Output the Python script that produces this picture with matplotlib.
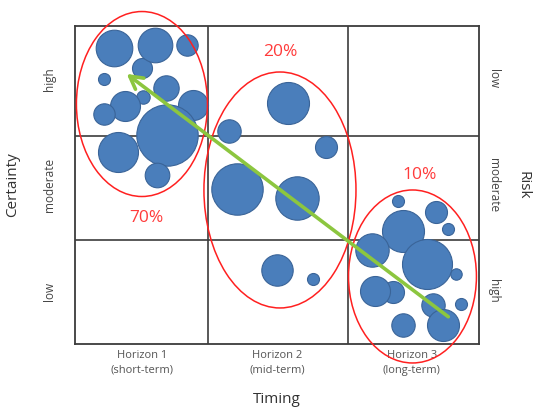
import matplotlib
matplotlib.use("Agg")
import matplotlib.pyplot as plt
from matplotlib.patches import Ellipse
import numpy as np

plt.rcParams['font.family'] = ['Open Sans', 'DejaVu Sans']

# ---- data (cell units: x = timing 0..3, y = certainty 0..3) ----
timing_labels = ["Horizon 1\n(short-term)", "Horizon 2\n(mid-term)", "Horizon 3\n(long-term)"]
certainty_labels = ["low", "moderate", "high"]
risk_labels = ["high", "moderate", "low"]

# bubbles: x, y, radius (relative size)
g1_x = [0.495, 0.292, 0.594, 0.829, 0.218, 0.676, 0.503, 0.371, 0.218, 0.878, 0.685, 0.322, 0.607]
g1_y = [2.601, 2.790, 2.821, 2.821, 2.500, 2.412, 2.333, 2.245, 2.167, 2.255, 1.972, 1.814, 1.594]
g1_r = [10.0, 18.3, 17.3, 10.7, 6.0, 12.7, 6.7, 15.0, 10.7, 15.0, 30.7, 20.0, 12.3]

g2_x = [1.579, 1.146, 1.864, 1.205, 1.646, 1.502, 1.770]
g2_y = [2.271, 2.012, 1.861, 1.459, 1.375, 0.698, 0.610]
g2_r = [21.0, 11.7, 11.0, 25.7, 21.7, 15.7, 6.0]

g3_x = [2.401, 2.678, 2.767, 2.438, 2.203, 2.616, 2.829, 2.363, 2.228, 2.661, 2.866, 2.438, 2.735]
g3_y = [1.352, 1.242, 1.085, 1.069, 0.887, 0.752, 0.660, 0.493, 0.503, 0.368, 0.377, 0.179, 0.179]
g3_r = [6.0, 11.0, 6.0, 21.0, 16.7, 25.0, 5.7, 11.0, 15.0, 11.7, 6.0, 11.7, 16.0]

# group ellipses: center x, center y, width, height
ell_cx = [0.497, 1.522, 2.506]
ell_cy = [2.264, 1.453, 0.637]
ell_w = [0.973, 1.129, 0.950]
ell_h = [1.745, 2.226, 1.632]

# share labels
share_text = ["70%", "20%", "10%"]
share_x = [0.527, 1.522, 2.562]
share_y = [1.189, 2.758, 1.594]

# trend arrow (from long-term/high-risk to short-term/high-certainty)
arrow_start = (2.772, 0.257)
arrow_end = (0.384, 2.548)

# ---- figure ----
fig = plt.figure(figsize=(5.35, 4.20), dpi=100)
ax = fig.add_axes([75/535, 1-344/420, 404/535, 318/420])
ax.set_xlim(0, 3)
ax.set_ylim(0, 3)

grid_c = "#3c3c3c"
ax.set_xticks([0.99, 2.03], minor=True)
ax.set_yticks([0.98, 1.96], minor=True)
ax.grid(which="minor", color=grid_c, lw=1.2, zorder=1)
ax.tick_params(which="both", length=0)
for s in ax.spines.values():
    s.set_color(grid_c)
    s.set_linewidth(1.3)
    s.set_zorder(1)

ax.set_xticks([0.5, 1.5, 2.5])
ax.set_xticklabels(timing_labels, fontsize=8, color="#555555", linespacing=1.5)
ax.tick_params(axis="x", pad=4)
ax.set_yticks([0.5, 1.5, 2.5])
ax.set_yticklabels(certainty_labels, rotation=90, va="center", fontsize=8.5, color="#444444")
ax.tick_params(axis="y", pad=14)

ax2 = ax.twinx()
ax2.set_ylim(0, 3)
ax2.set_yticks([0.5, 1.5, 2.5])
ax2.set_yticklabels(risk_labels, rotation=270, va="center", fontsize=8.5, color="#444444")
ax2.tick_params(length=0, pad=6)
for s in ax2.spines.values():
    s.set_visible(False)

ax.set_xlabel("Timing", fontsize=11, color="#333333", labelpad=12)
ax.set_ylabel("Certainty", fontsize=11, color="#333333", labelpad=16)
ax2.set_ylabel("Risk", fontsize=11, color="#333333", rotation=270, labelpad=22)

bubble_fc = "#4A7EBB"
bubble_ec = "#3A6498"
for xs, ys, rs in [(g1_x, g1_y, g1_r), (g2_x, g2_y, g2_r), (g3_x, g3_y, g3_r)]:
    sizes = (2 * np.array(rs) * 0.72) ** 2
    for x, y, s in zip(xs, ys, sizes):
        ax.scatter([x], [y], s=s, color=bubble_fc, edgecolors=bubble_ec,
                   linewidths=0.8, zorder=3)

for cx, cy, w, h in zip(ell_cx, ell_cy, ell_w, ell_h):
    e = Ellipse((cx, cy), w, h, fill=False, edgecolor="#FF2020", lw=1.1,
                zorder=4, clip_on=False)
    ax.add_patch(e)

for t, x, y in zip(share_text, share_x, share_y):
    ax.text(x, y, t, fontsize=12.5, color="#FF3B3B", ha="center", va="center", zorder=5)

ax.annotate("", xy=arrow_end, xytext=arrow_start,
            arrowprops=dict(arrowstyle="->,head_length=0.9,head_width=0.5",
                            color="#8CC63F", lw=2.6, shrinkA=0, shrinkB=0),
            zorder=6)

fig.savefig("out.png", dpi=100)
